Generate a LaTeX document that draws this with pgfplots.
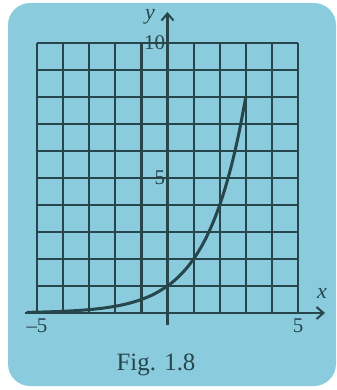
\documentclass[border=0pt]{standalone}
\usepackage{fontspec}
\setmainfont{Liberation Serif}
\usepackage{pgfplots}
\pgfplotsset{compat=1.18}
\usetikzlibrary{arrows.meta}
\definecolor{bgblue}{RGB}{138,203,221}
\definecolor{ink}{RGB}{38,70,76}
\begin{document}
\begin{tikzpicture}[x=1bp,y=1bp]
\path[use as bounding box] (0,0) rectangle (337,390);
\fill[bgblue, rounded corners=22bp] (8,4) rectangle (336,387);
\begin{axis}[
  at={(37bp,77bp)}, anchor=south west,
  scale only axis, width=261bp, height=270bp,
  xmin=-5, xmax=5, ymin=0, ymax=10,
  axis lines=middle,
  axis line style={ink, line width=2.4bp},
  x axis line style={-{Straight Barb[length=7bp,width=12bp,line width=2bp]}, shorten >=-27bp, shorten <=-12bp},
  y axis line style={-{Straight Barb[length=7bp,width=12bp,line width=2bp]}, shorten >=-31bp, shorten <=-12bp},
  xtick={-5,...,5}, ytick={0,...,10},
  xticklabels={--5,,,,,,,,,,5},
  yticklabels={,,,,,5,,,,,10},
  major tick length=0pt,
  grid=major,
  grid style={ink, line width=2.2bp},
  /pgf/number format/assume math mode=true,
  tick label style={font=\fontsize{21}{22}\selectfont, text=ink},
  xticklabel style={anchor=north, yshift=-2bp},
  yticklabel style={anchor=east, xshift=1bp},
  xlabel={\textit{x}}, ylabel={\textit{y}},
  label style={font=\fontsize{22}{22}\selectfont, text=ink},
  xlabel style={at={(axis description cs:1.092,0.074)}, anchor=center},
  ylabel style={at={(axis description cs:0.433,1.096)}, anchor=center, rotate=0},
  clip=false,
]
\addplot[smooth, ink, line width=3bp] coordinates {
(-5.4,0.0237) (-5,0.03125) (-4.5,0.0442) (-4,0.0625) (-3.5,0.0884) (-3,0.125)
(-2.5,0.1768) (-2,0.25) (-1.5,0.3536) (-1,0.5) (-0.5,0.7071) (0,1)
(0.25,1.1892) (0.5,1.4142) (0.75,1.6818) (1,2) (1.25,2.3784) (1.5,2.8284)
(1.75,3.3636) (2,4) (2.25,4.7568) (2.5,5.6569) (2.75,6.7272) (3,8)
};
\end{axis}
\node[text=ink, font=\fontsize{25}{26}\selectfont] at (156,25) {Fig. 1.8};
\end{tikzpicture}
\end{document}
